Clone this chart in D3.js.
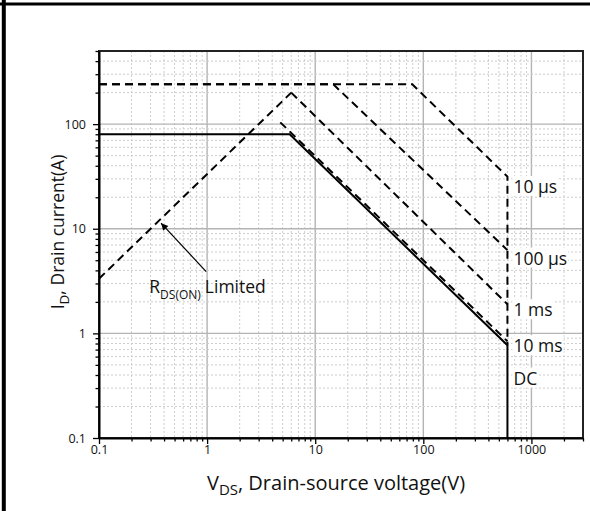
<!DOCTYPE html>
<html>
<head>
<meta charset="utf-8">
<script src="https://cdn.jsdelivr.net/npm/d3@7"></script>
<style>
  body { margin: 0; background: #fff; }
  text { font-family: "Open Sans", "Noto Sans", sans-serif; fill: #111; }
</style>
</head>
<body>
<div id="chart"></div>
<script>
const width = 590
const height = 511
const margin = { top: 51, right: 7, bottom: 73, left: 99 }

// axis ticks
const xTicks = [0.1, 1, 10, 100, 1000]
const yTicks = [0.1, 1, 10, 100]

// SOA curves (V, A)
const dcV = [0.1, 5.8, 600, 600]
const dcI = [80, 80, 0.77, 0.1]
const ms10V = [4.75, 600]
const ms10I = [104, 0.84]
const ms1V = [6, 600]
const ms1I = [200, 1.9]
const us100V = [0.1, 14.7, 600]
const us100I = [240, 240, 6.25]
const us10V = [0.1, 79, 600, 600]
const us10I = [240, 240, 31.5, 0.77]
const rdsV = [0.1, 6]
const rdsI = [3.33, 200]

// curve labels, placed at the right of the 600 V limit
const pulseLabels = ["10 µs", "100 µs", "1 ms", "10 ms", "DC"]
const pulseLabelI = [25.2, 5.2, 1.67, 0.756, 0.371]

const svg = d3.select("#chart").append("svg").attr("width", width).attr("height", height)

// outer frame (top + left only, like the cropped picture)
svg.append("line").attr("x1", 3.8).attr("x2", 3.8).attr("y1", 0).attr("y2", height)
    .attr("stroke", "#000").attr("stroke-width", 4)
svg.append("line").attr("x1", 0).attr("x2", width).attr("y1", 4).attr("y2", 4)
    .attr("stroke", "#000").attr("stroke-width", 3)

const x = d3.scaleLog().domain([0.1, 3000]).range([margin.left, width - margin.right])
const y = d3.scaleLog().domain([0.1, 500]).range([height - margin.bottom, margin.top])

const isMajor = v => Math.abs(Math.log10(v) - Math.round(Math.log10(v))) < 1e-6

const xAll = x.ticks()
const yAll = y.ticks()

// grid
const grid = svg.append("g")
grid.selectAll(".gx").data(xAll.filter(v => v > 0.1 && v < 3000)).join("line")
    .attr("x1", d => x(d)).attr("x2", d => x(d))
    .attr("y1", margin.top).attr("y2", height - margin.bottom)
    .attr("stroke", d => isMajor(d) ? "#b4b4b4" : "#cdcdcd")
    .attr("stroke-width", d => isMajor(d) ? 1.4 : 1)
    .attr("stroke-dasharray", d => isMajor(d) ? null : "2,2")
grid.selectAll(".gy").data(yAll.filter(v => v > 0.1 && v < 500)).join("line")
    .attr("y1", d => y(d)).attr("y2", d => y(d))
    .attr("x1", margin.left).attr("x2", width - margin.right)
    .attr("stroke", d => isMajor(d) ? "#b4b4b4" : "#cdcdcd")
    .attr("stroke-width", d => isMajor(d) ? 1.4 : 1)
    .attr("stroke-dasharray", d => isMajor(d) ? null : "2,2")

// plot frame
svg.append("rect")
    .attr("x", margin.left).attr("y", margin.top)
    .attr("width", width - margin.left - margin.right)
    .attr("height", height - margin.top - margin.bottom)
    .attr("fill", "none").attr("stroke", "#222").attr("stroke-width", 2)

// axes
const xAxis = d3.axisBottom(x).tickValues(xAll)
    .tickSize(0).tickFormat(d => xTicks.includes(d) ? d3.format("~g")(d) : "")
const gx = svg.append("g").attr("transform", `translate(0,${height - margin.bottom})`).call(xAxis)
gx.select(".domain").attr("stroke", "#000").attr("stroke-width", 2)
gx.selectAll(".tick line").attr("y2", d => xTicks.includes(d) ? 6 : 3.5).attr("stroke", "#000").attr("stroke-width", 1.3)
gx.selectAll(".tick text").attr("dy", "1.05em").attr("font-size", 12.5)
    .style("font-family", '"Open Sans", sans-serif').attr("fill", "#111")

const yAxis = d3.axisLeft(y).tickValues(yAll)
    .tickSize(0).tickFormat(d => yTicks.includes(d) ? d3.format("~g")(d) : "")
const gy = svg.append("g").attr("transform", `translate(${margin.left},0)`).call(yAxis)
gy.select(".domain").attr("stroke", "#000").attr("stroke-width", 2)
gy.selectAll(".tick line").attr("x2", d => yTicks.includes(d) ? -6 : -3.5).attr("stroke", "#000").attr("stroke-width", 1.3)
gy.selectAll(".tick text").attr("x", -13).attr("font-size", 12.5)
    .style("font-family", '"Open Sans", sans-serif').attr("fill", "#111")

// curves
const line = d3.line().x(d => x(d[0])).y(d => y(d[1]))
const curves = [
    { v: rdsV, i: rdsI, dash: "8,5" },
    { v: us10V, i: us10I, dash: "8,5" },
    { v: us100V, i: us100I, dash: "8,5" },
    { v: ms1V, i: ms1I, dash: "8,5" },
    { v: ms10V, i: ms10I, dash: "8,5" },
    { v: dcV, i: dcI, dash: null }
]
svg.append("clipPath").attr("id", "clip").append("rect")
    .attr("x", margin.left).attr("y", margin.top)
    .attr("width", width - margin.left - margin.right)
    .attr("height", height - margin.top - margin.bottom)

svg.append("g").attr("clip-path", "url(#clip)")
    .selectAll("path").data(curves).join("path")
    .attr("d", c => line(c.v.map((v, k) => [v, c.i[k]])))
    .attr("fill", "none").attr("stroke", "#000").attr("stroke-width", 2)
    .attr("stroke-dasharray", c => c.dash)

// curve labels with white background
const lg = svg.append("g")
pulseLabels.forEach((t, k) => {
    const g = lg.append("g")
    const tx = g.append("text").attr("x", x(600) + 6).attr("y", y(pulseLabelI[k]))
        .attr("dy", "0.35em").attr("font-size", 17.5).text(t)
    const b = tx.node().getBBox()
    g.insert("rect", "text").attr("x", b.x - 1).attr("y", b.y + 2).attr("width", b.width + 2).attr("height", b.height - 4)
        .attr("fill", "#fff")
})

// RDS(ON) limited annotation
const arrowTip = [0.375, 11.3]
const arrowTail = [0.98, 3.9]
svg.append("defs").append("marker").attr("id", "ah")
    .attr("viewBox", "0 0 10 10").attr("refX", 10).attr("refY", 5)
    .attr("markerWidth", 10).attr("markerHeight", 7).attr("markerUnits", "userSpaceOnUse")
    .attr("orient", "auto")
    .append("path").attr("d", "M0,0 L10,5 L0,10 Z").attr("fill", "#000")
svg.append("line")
    .attr("x1", x(arrowTail[0])).attr("y1", y(arrowTail[1]))
    .attr("x2", x(arrowTip[0])).attr("y2", y(arrowTip[1]))
    .attr("stroke", "#000").attr("stroke-width", 1.2).attr("marker-end", "url(#ah)")

const rdsLabel = [0.292, 2.43]
const rt = svg.append("text").attr("x", x(rdsLabel[0])).attr("y", y(rdsLabel[1])).attr("font-size", 17.5)
rt.append("tspan").text("R")
rt.append("tspan").attr("font-size", 12).attr("dy", 6).text("DS(ON)")
rt.append("tspan").attr("dy", -6).attr("dx", 4).text("Limited")

// axis titles
const xt = svg.append("text").attr("x", (margin.left + width - margin.right) / 2 - 5).attr("y", 490)
    .attr("text-anchor", "middle").attr("font-size", 20)
xt.append("tspan").text("V")
xt.append("tspan").attr("font-size", 15).attr("dy", 5).text("DS")
xt.append("tspan").attr("dy", -5).text(", Drain-source voltage(V)")

const yt = svg.append("text").attr("transform", `translate(64,232) rotate(-90)`)
    .attr("text-anchor", "middle").attr("font-size", 17.5)
yt.append("tspan").text("I")
yt.append("tspan").attr("font-size", 13.5).attr("dy", 5).text("D")
yt.append("tspan").attr("dy", -5).text(", Drain current(A)")
</script>
</body>
</html>
